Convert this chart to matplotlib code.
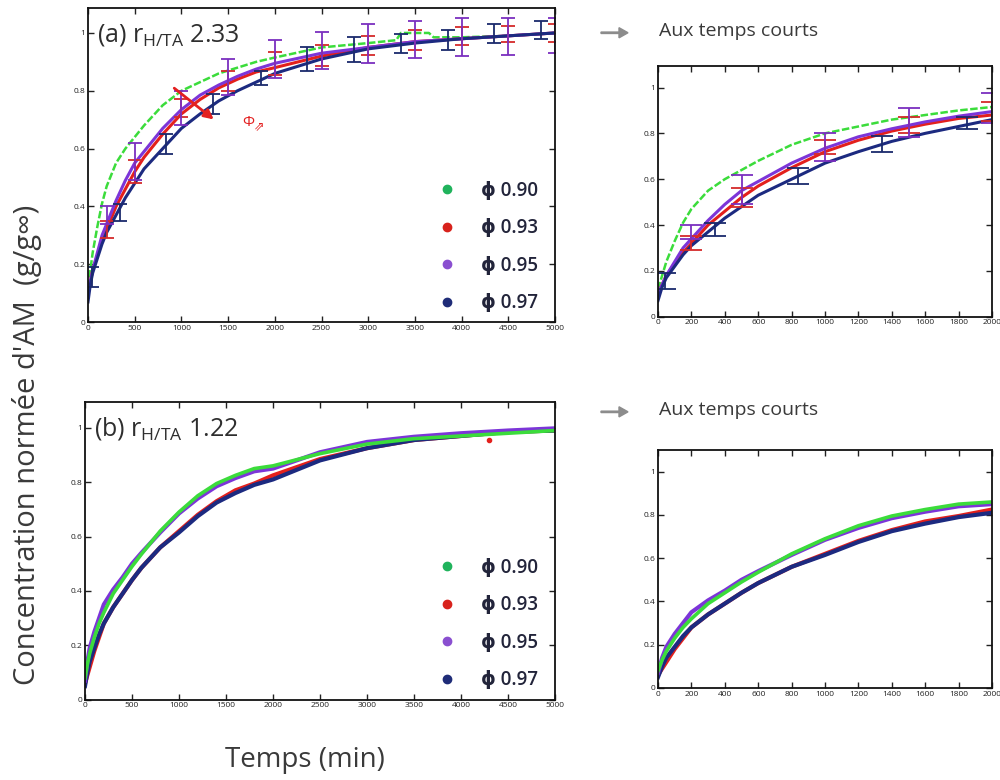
import matplotlib
matplotlib.use("Agg")
import matplotlib.pyplot as plt
import numpy as np
from matplotlib.lines import Line2D

plt.rcParams['font.family'] = ['Open Sans', 'DejaVu Sans']

# ---- panel (a) : r_H/TA 2.33 ----
time_a = [0, 25, 50, 100, 150, 200, 300, 400, 500, 600, 800, 1000, 1200, 1400,
          1600, 1800, 2000, 2500, 3000, 3500, 4000, 4500, 5000]
green_time_a = [0, 25, 50, 100, 150, 200, 300, 400, 500, 600, 800, 1000, 1200, 1400,
                1600, 1800, 2000, 2500, 3000, 3300, 3350, 3650, 3700, 4000, 4500, 5000]
green_a = [0.12, 0.18, 0.24, 0.33, 0.41, 0.47, 0.55, 0.60, 0.64, 0.68, 0.75, 0.80, 0.83, 0.86,
           0.88, 0.90, 0.915, 0.95, 0.965, 0.975, 1.0, 1.0, 0.985, 0.985, 0.99, 1.0]
red_a = [0.10, 0.14, 0.18, 0.23, 0.28, 0.32, 0.40, 0.46, 0.52, 0.57, 0.65, 0.72, 0.77, 0.81,
         0.84, 0.865, 0.88, 0.92, 0.95, 0.97, 0.98, 0.99, 1.0]
purple_a = [0.10, 0.14, 0.18, 0.24, 0.30, 0.34, 0.42, 0.49, 0.55, 0.59, 0.67, 0.735, 0.785, 0.82,
            0.85, 0.875, 0.895, 0.93, 0.95, 0.97, 0.98, 0.99, 1.0]
blue_a = [0.07, 0.13, 0.17, 0.22, 0.27, 0.31, 0.37, 0.43, 0.48, 0.53, 0.60, 0.67, 0.72, 0.765,
          0.80, 0.83, 0.86, 0.91, 0.945, 0.965, 0.98, 0.99, 1.0]

# error bars (a)
blue_err_t = [40, 340, 840, 1340, 1850, 2350, 2850, 3350, 3850, 4350, 4850]
blue_err_lo = [0.12, 0.35, 0.58, 0.72, 0.82, 0.87, 0.90, 0.93, 0.94, 0.965, 0.98]
blue_err_hi = [0.19, 0.41, 0.65, 0.79, 0.87, 0.95, 0.985, 0.995, 1.01, 1.03, 1.04]
purple_err_t = [200, 500, 1000, 1500, 2000, 2500, 3000, 3500, 4000, 4500, 5000]
purple_err_lo = [0.34, 0.49, 0.68, 0.785, 0.845, 0.875, 0.895, 0.915, 0.92, 0.925, 0.93]
purple_err_hi = [0.40, 0.62, 0.80, 0.91, 0.975, 1.005, 1.03, 1.04, 1.05, 1.05, 1.05]
red_err_t = [200, 500, 1000, 1500, 2000, 2500, 3000, 3500, 4000, 4500, 5000]
red_err_lo = [0.29, 0.48, 0.71, 0.80, 0.855, 0.885, 0.925, 0.94, 0.96, 0.97, 0.97]
red_err_hi = [0.35, 0.56, 0.77, 0.87, 0.935, 0.96, 0.99, 1.01, 1.02, 1.025, 1.03]

# ---- panel (b) : r_H/TA 1.22 ----
time_b = [0, 25, 50, 100, 150, 200, 300, 400, 500, 600, 800, 1000, 1200, 1400,
          1600, 1800, 2000, 2500, 3000, 3500, 4000, 4500, 5000]
green_b = [0.08, 0.13, 0.17, 0.23, 0.28, 0.32, 0.39, 0.44, 0.49, 0.535, 0.62, 0.69, 0.75, 0.795,
           0.825, 0.85, 0.86, 0.905, 0.94, 0.96, 0.97, 0.98, 0.99]
purple_b = [0.07, 0.14, 0.19, 0.25, 0.30, 0.35, 0.405, 0.45, 0.50, 0.54, 0.615, 0.685, 0.74, 0.785,
            0.815, 0.84, 0.85, 0.91, 0.948, 0.967, 0.98, 0.99, 0.998]
red_b = [0.06, 0.09, 0.12, 0.18, 0.23, 0.28, 0.34, 0.39, 0.44, 0.485, 0.56, 0.62, 0.68, 0.73,
         0.77, 0.795, 0.825, 0.885, 0.925, 0.955, 0.97, 0.985, 0.99]
blue_b = [0.05, 0.10, 0.14, 0.19, 0.24, 0.28, 0.34, 0.39, 0.44, 0.485, 0.56, 0.615, 0.675, 0.725,
          0.76, 0.79, 0.81, 0.88, 0.925, 0.955, 0.97, 0.985, 0.99]
red_outlier = (4300, 0.955)

legend_labels = ['ϕ 0.90', 'ϕ 0.93', 'ϕ 0.95', 'ϕ 0.97']
legend_colors = ['#20b35c', '#d8221c', '#8a4fd0', '#1f2c78']
yticks = [0, 0.2, 0.4, 0.6, 0.8, 1]
ytick_labels = ['0', '0.2', '0.4', '0.6', '0.8', '1']
xticks_main = [0, 500, 1000, 1500, 2000, 2500, 3000, 3500, 4000, 4500, 5000]
xticks_short = [0, 200, 400, 600, 800, 1000, 1200, 1400, 1600, 1800, 2000]

GREEN = '#3bdc3b'
RED = '#e3201c'
PURPLE = '#7c35d8'
BLUE = '#1c2a80'
TXT = '#3a3a3a'

fig = plt.figure(figsize=(10, 7.8), dpi=100)
ax_a = fig.add_axes([0.088, 0.587, 0.467, 0.403])
ax_ai = fig.add_axes([0.658, 0.594, 0.334, 0.322])
ax_b = fig.add_axes([0.085, 0.103, 0.470, 0.382])
ax_bi = fig.add_axes([0.658, 0.118, 0.334, 0.305])


def style(ax, xticks, xmax, ytop):
    ax.set_xlim(0, xmax)
    ax.set_ylim(0, ytop)
    ax.set_xticks(xticks)
    ax.set_xticklabels([str(t) for t in xticks])
    ax.set_yticks(yticks)
    ax.set_yticklabels(ytick_labels)
    ax.tick_params(direction='in', top=True, right=True, length=4, width=1,
                   labelsize=6, colors='#222222', pad=2)
    for sp in ax.spines.values():
        sp.set_linewidth(1.3)
        sp.set_color('#111111')


def draw_a(ax, cap):
    ax.plot(green_time_a, green_a, color=GREEN, lw=1.8, ls=(0, (3, 1)))
    ax.plot(time_a, red_a, color=RED, lw=2.2)
    ax.plot(time_a, purple_a, color=PURPLE, lw=2.2)
    ax.plot(time_a, blue_a, color=BLUE, lw=2.2)
    for t, lo, hi, c in [(red_err_t, red_err_lo, red_err_hi, '#d42a2a'),
                         (purple_err_t, purple_err_lo, purple_err_hi, '#7b2fbf'),
                         (blue_err_t, blue_err_lo, blue_err_hi, '#1a2a6c')]:
        lo = np.array(lo)
        hi = np.array(hi)
        ax.errorbar(t, (lo + hi) / 2, yerr=(hi - lo) / 2, fmt='none', ecolor=c,
                    elinewidth=1.3, capsize=cap, capthick=1.3)


def draw_b(ax):
    ax.plot(time_b, red_b, color=RED, lw=3)
    ax.plot(time_b, blue_b, color=BLUE, lw=3)
    ax.plot(time_b, purple_b, color=PURPLE, lw=3)
    ax.plot(time_b, green_b, color=GREEN, lw=2.6)


def add_legend(ax):
    handles = [Line2D([], [], ls='none', marker='o', ms=6, color=c) for c in legend_colors]
    ax.legend(handles, legend_labels, loc='lower right', bbox_to_anchor=(1.0, -0.025),
              frameon=False, labelspacing=0.93, handlelength=1.0,
              handletextpad=1.3, prop={'size': 13.5, 'weight': 'semibold'},
              labelcolor='#22243a')


draw_a(ax_a, 5)
style(ax_a, xticks_main, 5000, 1.087)
add_legend(ax_a)
ax_a.text(0.02, 0.955, '(a) r$_{\\mathregular{H/TA}}$ 2.33', transform=ax_a.transAxes,
          fontsize=18, color='#2e2e2e', va='top', ha='left')
ax_a.annotate('', xy=(1370, 0.695), xytext=(900, 0.815),
              arrowprops=dict(arrowstyle='-|>', color='#e32020', lw=2, mutation_scale=14))
ax_a.text(1720, 0.69, 'Φ', color='#e32020', fontsize=11, ha='center', va='center')
ax_a.text(1830, 0.675, '⇗', color='#e32020', fontsize=9, ha='center', va='center')

draw_a(ax_ai, 8)
style(ax_ai, xticks_short, 2000, 1.096)

draw_b(ax_b)
ax_b.plot(*red_outlier, 'o', color=RED, ms=3)
style(ax_b, xticks_main, 5000, 1.096)
add_legend(ax_b)
ax_b.text(0.02, 0.955, '(b) r$_{\\mathregular{H/TA}}$ 1.22', transform=ax_b.transAxes,
          fontsize=18, color='#2e2e2e', va='top', ha='left')

draw_b(ax_bi)
style(ax_bi, xticks_short, 2000, 1.10)

# right-hand captions
for y in [0.958, 0.472]:
    fig.patches.append(matplotlib.patches.FancyArrow(
        0.601, y, 0.027, 0, width=0.0018, head_width=0.013, head_length=0.009,
        color='#8c8c8c', transform=fig.transFigure, length_includes_head=True))
    fig.text(0.659, y + 0.002, 'Aux temps courts', fontsize=14, color=TXT,
             ha='left', va='center')

fig.text(0.027, 0.43, "Concentration normée d'AM  (g/g\u221e)", rotation=90,
         fontsize=21, color=TXT, ha='center', va='center')
fig.text(0.305, 0.026, 'Temps (min)', fontsize=20, color=TXT, ha='center', va='center')

fig.savefig('out.png', dpi=100)
